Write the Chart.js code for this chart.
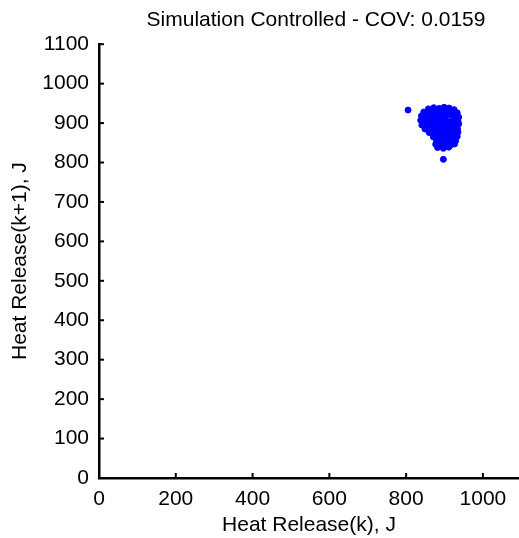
<!DOCTYPE html>
<html>
<head>
<meta charset="utf-8">
<script src="https://cdn.jsdelivr.net/npm/chart.js@4/dist/chart.umd.min.js"></script>
<style>
  html, body { margin: 0; padding: 0; background: #fff; }
</style>
</head>
<body>
<canvas id="myChart" width="519" height="538"></canvas>
<script>
// heat release of cycle k and cycle k+1 (J)
const heatK = [
    858, 872, 886, 899, 912, 925,
    846, 857, 869, 882, 895, 908, 921, 933,
    840, 851, 863, 876, 889, 901, 914, 926, 937,
    838, 849, 861, 873, 886, 898, 911, 923, 935,
    841, 853, 866, 879, 891, 904, 916, 928, 937,
    849, 861, 873, 886, 898, 910, 922, 934,
    860, 874, 887, 899, 912, 924, 935,
    871, 884, 897, 909, 921, 933,
    879, 892, 905, 917, 929,
    877, 889, 903, 916, 926,
    882, 897, 911,
    852, 866, 880, 893, 906, 919, 931,
    845, 858, 871, 884, 897, 910, 923,
    856, 868, 881, 893, 905, 917, 929,
    878, 891, 903, 915, 927,
    805, 897
];
const heatK1 = [
    936, 939, 937, 940, 938, 934,
    928, 930, 926, 929, 931, 927, 929, 926,
    918, 916, 920, 917, 919, 915, 921, 918, 915,
    907, 909, 905, 908, 906, 910, 904, 907, 906,
    895, 897, 894, 898, 896, 893, 897, 895, 898,
    885, 887, 884, 888, 886, 883, 887, 885,
    876, 874, 877, 873, 876, 874, 877,
    865, 866, 864, 867, 865, 866,
    855, 857, 854, 856, 855,
    846, 843, 847, 844, 847,
    838, 836, 839,
    923, 924, 922, 924, 923, 925, 921,
    901, 902, 900, 903, 901, 899, 902,
    890, 891, 889, 892, 890, 891, 889,
    869, 870, 871, 869, 870,
    933, 808
];

const xTicks = [0, 200, 400, 600, 800, 1000];
const yTicks = [0, 100, 200, 300, 400, 500, 600, 700, 800, 900, 1000, 1100];

const titre = 'Simulation Controlled - COV: 0.0159';
const fontFamily = '"Liberation Sans", Arial, sans-serif';

const points = heatK.map((v, i) => ({ x: v, y: heatK1[i] }));

// small tick marks drawn inside the axes, matlab style
const innerTicks = {
    id: 'innerTicks',
    afterLayout(chart) {
        // title sits a little right of the axes centre
        if (chart.titleBlock) {
            chart.titleBlock.left += 7;
            chart.titleBlock.right += 7;
        }
    },
    afterDraw(chart) {
        const { ctx, chartArea, scales } = chart;
        ctx.save();
        ctx.strokeStyle = '#000';
        ctx.lineWidth = 2;
        scales.x.ticks.forEach((t) => {
            const px = scales.x.getPixelForValue(t.value);
            ctx.beginPath();
            ctx.moveTo(px, chartArea.bottom);
            ctx.lineTo(px, chartArea.bottom - 5);
            ctx.stroke();
        });
        scales.y.ticks.forEach((t) => {
            const py = scales.y.getPixelForValue(t.value);
            ctx.beginPath();
            ctx.moveTo(chartArea.left, py);
            ctx.lineTo(chartArea.left + 5, py);
            ctx.stroke();
        });
        ctx.restore();
    }
};

const ctx = document.getElementById('myChart').getContext('2d');
new Chart(ctx, {
    type: 'scatter',
    data: {
        datasets: [{
            data: points,
            backgroundColor: '#0000ff',
            borderColor: '#0000ff',
            pointRadius: 3,
            borderWidth: 1
        }]
    },
    options: {
        responsive: false,
        animation: false,
        layout: { padding: 0, autoPadding: false },
        plugins: {
            legend: { display: false },
            tooltip: { enabled: false },
            title: {
                display: true,
                text: titre,
                fullSize: false,
                color: '#000',
                font: { family: fontFamily, size: 21, weight: 'normal' },
                padding: { top: 8, bottom: 11 }
            }
        },
        scales: {
            x: {
                type: 'linear',
                min: 0,
                max: 1094,
                grid: { display: false, drawTicks: false },
                border: { display: true, color: '#000', width: 2.5 },
                afterBuildTicks: (scale) => {
                    scale.ticks = xTicks.map((v) => ({ value: v }));
                },
                afterFit: (scale) => { scale.height = 60; },
                ticks: {
                    color: '#000',
                    padding: 9,
                    maxRotation: 0,
                    callback: (v) => String(v),
                    font: { family: fontFamily, size: 21 }
                },
                title: {
                    display: true,
                    text: 'Heat Release(k), J',
                    color: '#000',
                    font: { family: fontFamily, size: 21 },
                    padding: { top: 0, bottom: 0 }
                }
            },
            y: {
                type: 'linear',
                min: 0,
                max: 1100,
                grid: { display: false, drawTicks: false },
                border: { display: true, color: '#000', width: 2.5 },
                afterBuildTicks: (scale) => {
                    scale.ticks = yTicks.map((v) => ({ value: v }));
                },
                afterFit: (scale) => { scale.width = 99; },
                ticks: {
                    color: '#000',
                    padding: 10,
                    callback: (v) => String(v),
                    font: { family: fontFamily, size: 21 }
                },
                title: {
                    display: true,
                    text: 'Heat Release(k+1), J',
                    color: '#000',
                    font: { family: fontFamily, size: 21 },
                    padding: { top: 8, bottom: 0 }
                }
            }
        }
    },
    plugins: [innerTicks]
});
</script>
</body>
</html>
